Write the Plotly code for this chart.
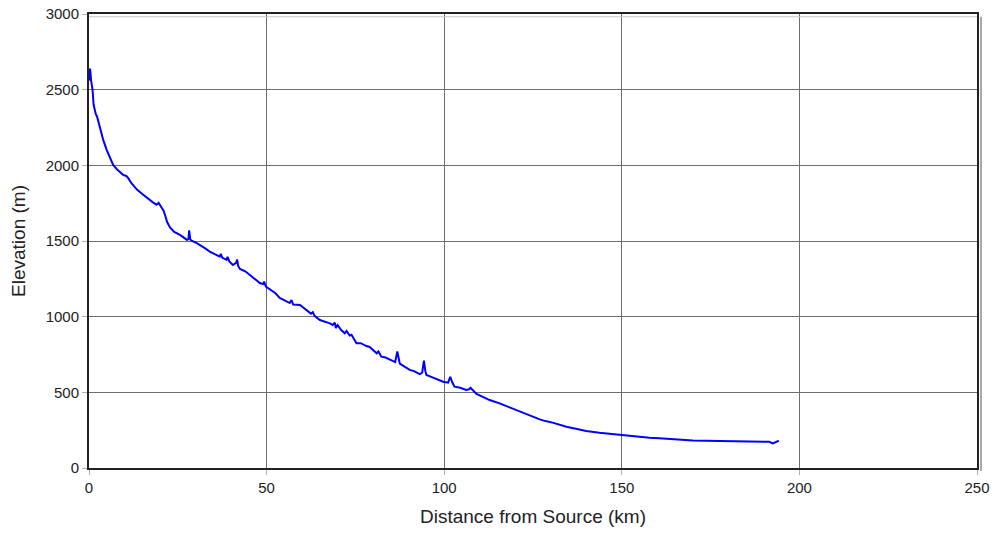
import plotly.graph_objects as go

distance_km = [
    0.1, 0.3, 0.6, 1.0, 1.3, 1.6, 1.9, 2.3, 2.6, 3.2,
    4.0, 5.0, 6.0, 6.8, 8.0, 9.0, 9.6, 10.5, 11.0, 12.0,
    13.5, 15.0, 16.5, 18.0, 19.0, 19.6, 20.2, 21.0, 21.4, 22.0,
    22.8, 24.0, 25.6, 27.0, 27.6, 28.0, 28.2, 28.5, 29.0, 30.0,
    31.2, 32.5, 34.0, 35.5, 36.8, 37.1, 37.5, 38.7, 39.0, 39.5,
    40.5, 41.4, 41.7, 42.0, 42.5, 44.0, 45.3, 46.5, 48.1, 49.0,
    49.3, 49.8, 51.0, 52.5, 53.7, 55.0, 56.5, 57.0, 57.5, 59.4,
    61.0, 62.5, 63.0, 63.5, 65.0, 66.5, 67.8, 68.6, 69.2, 69.5,
    70.0, 71.0, 72.0, 72.5, 73.4, 73.9, 74.5, 75.3, 76.5, 77.5,
    78.1, 79.0, 80.4, 81.0, 81.5, 82.3, 83.5, 85.1, 86.2, 86.8,
    87.2, 87.5, 88.5, 90.3, 91.5, 93.1, 93.8, 94.3, 94.7, 95.0,
    96.0, 97.3, 98.5, 99.7, 101.1, 101.7, 102.3, 102.9, 104.5, 106.2,
    107.0, 107.4, 109.1, 111.0, 112.8, 115.6, 118.5, 121.2, 124.0, 126.9,
    128.5, 130.5, 134.4, 137.0, 140.0, 143.7, 146.5, 149.8, 153.5, 157.8,
    160.5, 163.0, 167.2, 170.0, 173.5, 176.6, 180.0, 183.1, 185.0, 186.5,
    188.7, 190.5, 191.5, 192.5, 193.3, 194.2,
]

elevation_m = [
    2560, 2640, 2560, 2498, 2400, 2366, 2340, 2320, 2290, 2240,
    2168, 2100, 2045, 2003, 1970, 1945, 1937, 1930, 1917, 1880,
    1840, 1810, 1780, 1755, 1740, 1752, 1730, 1700, 1672, 1625,
    1590, 1560, 1540, 1515, 1507, 1515, 1570, 1510, 1500, 1490,
    1474, 1455, 1430, 1410, 1397, 1415, 1390, 1375, 1395, 1365,
    1341, 1355, 1378, 1335, 1315, 1300, 1276, 1255, 1222, 1215,
    1232, 1198, 1180, 1155, 1124, 1110, 1090, 1110, 1080, 1077,
    1045, 1020, 1030, 1005, 978, 968, 956, 945, 960, 925,
    945, 912, 890, 905, 875, 880, 857, 824, 825, 812,
    806, 800, 769, 758, 770, 736, 730, 714, 700, 770,
    720, 690, 675, 648, 640, 621, 630, 710, 640, 615,
    605, 593, 580, 570, 564, 603, 565, 537, 530, 516,
    520, 530, 490, 468, 449, 427, 400, 372, 346, 321,
    310, 300, 273, 258, 245, 233, 226, 218, 210, 200,
    196, 192, 185, 182, 180, 178, 176, 174, 175, 172,
    174, 170, 173, 163, 170, 180,
]

x_ticks = [0, 50, 100, 150, 200, 250]
y_ticks = [0, 500, 1000, 1500, 2000, 2500, 3000]

fig = go.Figure()
fig.add_trace(go.Scatter(x=distance_km, y=elevation_m, mode="lines",
                         line=dict(color="#0000FF", width=2), showlegend=False))

# soft shadow of the plot frame (right and just under the top edge)
fig.add_shape(type="line", xref="paper", yref="paper", x0=1.0045, y0=-0.006, x1=1.0045, y1=0.994,
              line=dict(color="#A8A8A8", width=2))
fig.add_shape(type="line", xref="paper", yref="paper", x0=0.0, y0=0.994, x1=1.0, y1=0.994,
              line=dict(color="#C8C8C8", width=1))

fig.update_layout(
    width=1001, height=536,
    margin=dict(l=89, r=24, t=14, b=68),
    paper_bgcolor="white", plot_bgcolor="white",
    font=dict(family="Arial, Liberation Sans, sans-serif", size=15, color="#222"),
    xaxis=dict(range=[0, 250], tickvals=x_ticks, showgrid=True, gridcolor="#6E6E6E", gridwidth=1,
               showline=True, linecolor="#222", linewidth=2, mirror=True, automargin=False,
               ticks="outside", ticklen=5, tickcolor="#B0B0B0", zeroline=False,
               ticklabeloverflow="allow",
               title=dict(text="Distance from Source (km)", font=dict(size=19)),
               tickfont=dict(size=15)),
    yaxis=dict(range=[0, 3000], tickvals=y_ticks, showgrid=True, gridcolor="#6E6E6E", gridwidth=1,
               showline=True, linecolor="#222", linewidth=2, mirror=True, automargin=False,
               ticks="outside", ticklen=5, tickcolor="#B0B0B0", zeroline=False,
               ticklabeloverflow="allow",
               title=dict(text="Elevation (m)", font=dict(size=19)),
               tickfont=dict(size=15)),
)

fig.write_html("out.html", config={"displayModeBar": False},
               post_script="document.body.style.margin='0';")
